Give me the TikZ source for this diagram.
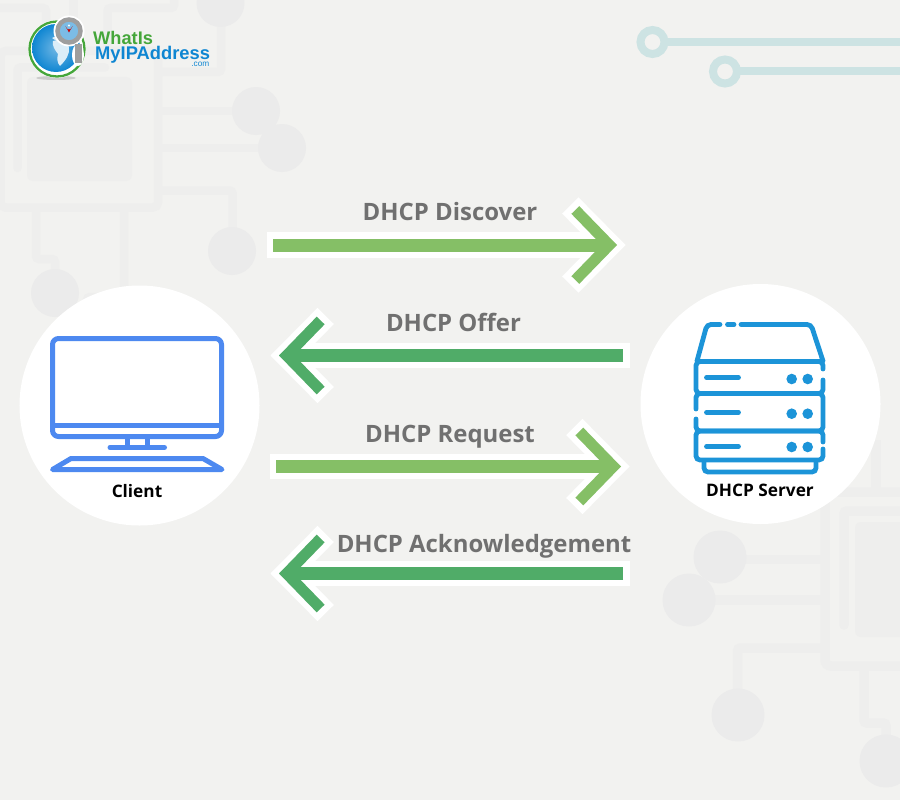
\documentclass[tikz,border=0pt]{standalone}
\usepackage{fontspec}
\setmainfont{Open Sans}
\newfontfamily\logofont{Liberation Sans}
\usetikzlibrary{arrows.meta}

\definecolor{paper}{HTML}{F2F2F0}
\definecolor{pcbgray}{HTML}{EEEEED}
\definecolor{padgray}{HTML}{EBEBEB}
\definecolor{teal}{HTML}{CDE3E3}
\definecolor{lightgreen}{HTML}{85BF66}
\definecolor{darkgreen}{HTML}{50AC68}
\definecolor{msggray}{HTML}{707070}
\definecolor{clientblue}{HTML}{4D89F0}
\definecolor{serverblue}{HTML}{1C94D8}
\definecolor{logogreen}{HTML}{45A63A}
\definecolor{logoblue}{HTML}{0F86D2}

\tikzset{
  pcbline/.style={draw=pcbgray,line width=8.5bp,rounded corners=3bp},
  pcbwide/.style={draw=pcbgray,line width=9.5bp,rounded corners=3bp},
  ringline/.style={draw=teal,line width=8bp},
  msghalo/.style={draw=white,line width=25.5bp,shorten <=-6.5bp,shorten >=-8.5bp,
    -{Straight Barb[length=39bp,width=79bp,line width=23bp]}},
  msgline/.style={line width=13bp,
    -{Straight Barb[length=34bp,width=70bp,line width=11bp]}},
  msglabel/.style={anchor=base,text=msggray,inner sep=0pt,font=\fontsize{24}{28}\selectfont\bfseries},
  hostlabel/.style={anchor=base,text=black,inner sep=0pt,font=\fontsize{17.3}{20}\selectfont\bfseries},
  hostdisc/.style={circle,fill=white,minimum size=240bp,inner sep=0pt},
  clienticon/.style={draw=clientblue,line width=5bp,line join=round,line cap=round},
  servericon/.style={draw=serverblue,line width=4.8bp,line cap=round,rounded corners=4bp},
}

\begin{document}
\begin{tikzpicture}[x=1bp,y=-1bp]
   \path[use as bounding box,clip] (0,0) rectangle (900,800);
   \fill[paper] (0,0) rectangle (900,800);

   \begin{scope}
    \draw[pcbline,rounded corners=5bp] (0.5,51) rectangle (158,207.5);
    \fill[pcbgray,rounded corners=6bp] (27,77) rectangle (132,181);
    \draw[pcbline,line cap=round] (105,67.5) -- (17.5,67.5) -- (17.5,168);
    \draw[pcbline] (162,111) -- (240,111);
    \draw[pcbline] (162,148) -- (265,148);
    \draw[pcbline] (162,190.5) -- (232.5,190.5) -- (232.5,235);
    \draw[pcbline] (36,211) -- (36,259) -- (55,259) -- (55,275);
    \draw[pcbline] (124,211) -- (124,297) -- (87,297) -- (87,315);
    \draw[pcbline] (0,8) -- (46,8) -- (46,50);
    \draw[pcbline] (73.5,0) -- (73.5,50);
    \draw[pcbline] (107.5,50) -- (107.5,8) -- (174,8) -- (174,-5);
    \draw[pcbline] (221,20) -- (221,72) -- (160,72);
    \foreach \padx/\pady in {256/111,282/148,232/251,55/293,220.5/3}
      \fill[padgray] (\padx,\pady) circle [radius=24];

    \draw[pcbwide,rounded corners=6bp] (910,492) -- (825,492) -- (825,666) -- (910,666);
    \fill[pcbgray,rounded corners=6bp] (855,522) rectangle (910,637);
    \draw[pcbwide,line cap=round] (910,511) -- (844,511) -- (844,625);
    \draw[pcbwide] (876,440) -- (876,492);
    \draw[pcbwide] (825,559.5) -- (730,559.5);
    \draw[pcbwide] (825,600) -- (700,600);
    \draw[pcbwide] (825,648) -- (737.5,648) -- (737.5,695);
    \draw[pcbwide] (864,666) -- (864,723) -- (886,723) -- (886,740);
    \foreach \padx/\pady in {720/557,689/600,738/715,886/761}
      \fill[padgray] (\padx,\pady) circle [radius=26.5];

    \draw[ringline] (652.5,42) circle [radius=12];
    \draw[ringline] (664.5,42) -- (905,42);
    \draw[ringline] (725,71.5) circle [radius=12];
    \draw[ringline] (737,71.5) -- (905,71.5);
   \end{scope}

   \node[hostdisc] (client) at (139.5,405.5) {};
   \node[hostdisc] (server) at (760.5,404) {};

   \begin{scope}
    \fill[black!20] (56,78) ellipse [x radius=20,y radius=2];
    \fill[white] (57,49) circle [radius=29];
    \draw[logogreen,line width=2.3bp] (57,49) circle [radius=27.5];
    \shade[inner color=logoblue!60!white,outer color=logoblue] (56,48) circle [radius=24];
    \fill[white!85!logoblue] (53,41) .. controls (58,38) and (66,42) .. (69,47) .. controls (70,54) and (66,60) .. (60,66)
      .. controls (57,63) and (57,58) .. (58,54) .. controls (55,50) and (52,46) .. (53,41);
    \fill[white!85!logoblue] (52,38) .. controls (54,36) and (60,37) .. (64,40) .. controls (60,41) and (55,41) .. (52,38);
    \fill[white] (69,31) circle [radius=15.5];
    \fill[white] (78,55) ellipse [x radius=6,y radius=11];
    \draw[black!38,line width=7bp] (78.5,44) -- (78.5,63);
    \fill[logoblue!55!white] (69,31) circle [radius=10];
    \draw[black!38,line width=4.5bp] (69,31) circle [radius=11.5];
    \fill[red!80!black] (69,32.5) -- (65.5,26) arc [start angle=180,end angle=0,radius=3.5] -- cycle;
    \fill[white] (69,25.5) circle [radius=1.2];
    \node[anchor=base west,inner sep=0pt,text=logogreen] (logotop) at (93,44.3)
      {\logofont\fontsize{18.3}{20}\selectfont\bfseries WhatIs};
    \node[anchor=base west,inner sep=0pt,text=logoblue] (logomid) at (95,60)
      {\logofont\fontsize{18.4}{20}\selectfont\bfseries MyIPAddress};
    \node[anchor=base east,inner sep=0pt,text=logoblue] (logocom) at (209.5,66.5)
      {\logofont\fontsize{8.3}{10}\selectfont .com};
   \end{scope}

   \begin{scope}
    \draw[clienticon,rounded corners=6bp] (52.5,338.5) rectangle (221.5,436.5);
    \draw[clienticon,line cap=butt] (52.5,425.5) -- (221.5,425.5);
    \draw[clienticon,line cap=butt] (127.5,438) -- (127.5,447);
    \draw[clienticon,line cap=butt] (147.5,438) -- (147.5,447);
    \draw[clienticon] (110,447.5) -- (164.5,447.5);
    \draw[clienticon] (71,458.5) -- (203,458.5) -- (222,469.5) -- (52.5,469.5) -- cycle;
    \node[hostlabel] (clientname) at (137,497.3) {Client};
   \end{scope}

   \begin{scope}
    \draw[servericon] (720,324.5) -- (707,324.5) -- (697,361);
    \draw[servericon] (727.5,324.5) -- (734,324.5);
    \draw[servericon] (741,324.5) -- (811,324.5) -- (823,361);
    \draw[servericon] (823,369) -- (823,361.5) -- (696,361.5) -- (696,393.5) -- (823,393.5) -- (823,380);
    \draw[servericon] (696,409) -- (696,393.5) -- (823,393.5) -- (823,431) -- (696,431) -- (696,419);
    \draw[servericon] (823,442) -- (823,431) -- (696,431) -- (696,460) -- (823,460) -- (823,449);
    \draw[servericon,line cap=butt] (704,460) -- (704,472) -- (816,472) -- (816,460);
    \draw[servericon] (706.5,377.7) -- (738.5,377.7);
    \draw[servericon] (706.5,412.3) -- (738.5,412.3);
    \draw[servericon] (706.5,446.7) -- (738.5,446.7);
    \foreach \rowy in {379,413.7,447} {
      \fill[serverblue] (791.7,\rowy) circle [radius=5.3];
      \fill[serverblue] (807.7,\rowy) circle [radius=5.3];
    }
    \node[hostlabel] (servername) at (760,496.8) {DHCP Server};
   \end{scope}

   \coordinate (discoverfrom) at (273,245);
   \coordinate (discoverto) at (617,245);
   \coordinate (offerfrom) at (623,355.5);
   \coordinate (offerto) at (279,355.5);
   \coordinate (requestfrom) at (276,466.5);
   \coordinate (requestto) at (621,466.5);
   \coordinate (ackfrom) at (623,573.5);
   \coordinate (ackto) at (279,573.5);

   \draw[msghalo] (discoverfrom) -- (discoverto);
   \draw[msghalo] (offerfrom) -- (offerto);
   \draw[msghalo] (requestfrom) -- (requestto);
   \draw[msghalo] (ackfrom) -- (ackto);
   \draw[msgline,draw=lightgreen] (discoverfrom) -- (discoverto);
   \draw[msgline,draw=darkgreen] (offerfrom) -- (offerto);
   \draw[msgline,draw=lightgreen] (requestfrom) -- (requestto);
   \draw[msgline,draw=darkgreen] (ackfrom) -- (ackto);

   \node[msglabel] (discover) at (450,220.5) {DHCP Discover};
   \node[msglabel] (offer) at (453.5,331.5) {DHCP Offer};
   \node[msglabel] (request) at (450,442.5) {DHCP Request};
   \node[msglabel] (ack) at (484,552.5) {DHCP Acknowledgement};
\end{tikzpicture}
\end{document}
